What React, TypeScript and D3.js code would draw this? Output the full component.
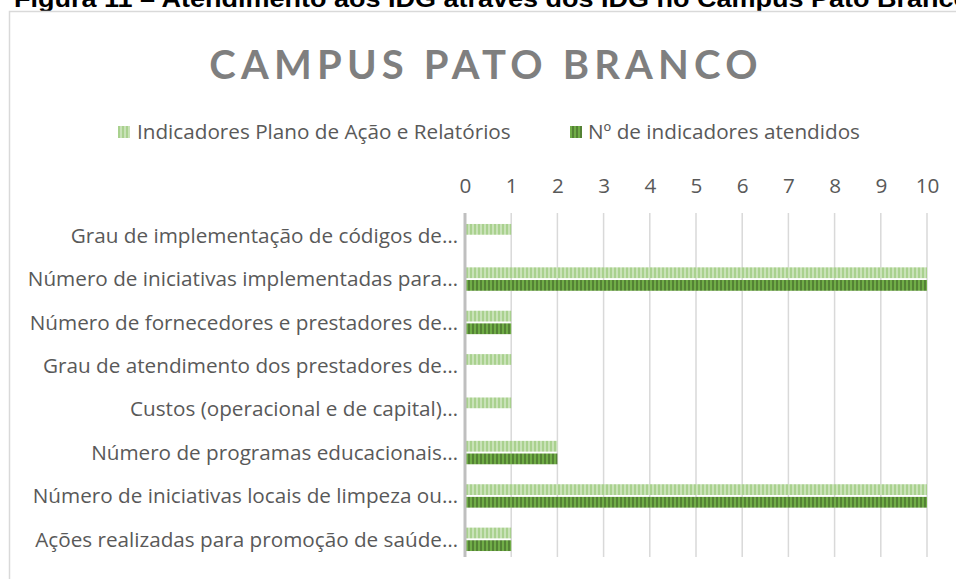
import { useEffect, useRef } from "react";
import * as d3 from "d3";

const CATEGORIES = [
  "Grau de implementação de códigos de…",
  "Número de iniciativas implementadas para…",
  "Número de fornecedores e prestadores de…",
  "Grau de atendimento dos prestadores de…",
  "Custos (operacional e de capital)…",
  "Número de programas educacionais…",
  "Número de iniciativas locais de limpeza ou…",
  "Ações realizadas para promoção de saúde…",
];
const SERIES = ["Indicadores Plano de Ação e Relatórios", "Nº de indicadores atendidos"];
const PLANO = [1, 10, 1, 1, 1, 2, 10, 1];
const ATENDIDOS = [0, 10, 1, 0, 0, 2, 10, 1];
const TICKS = [0, 1, 2, 3, 4, 5, 6, 7, 8, 9, 10];

const FONT = "'Open Sans', Lato, sans-serif";
const FS = "20.7px";

export default function App() {
  const ref = useRef<SVGSVGElement | null>(null);

  useEffect(() => {
    if (!ref.current) return;
    const svg = d3.select(ref.current);
    svg.selectAll("*").remove();

    // stripe patterns
    const defs = svg.append("defs");
    const pats = [
      { id: "p0", base: "#a9d18e", stripe: "#c9e2b8" },
      { id: "p1", base: "#70ad47", stripe: "#548235" },
    ];
    pats.forEach(p => {
      const pt = defs.append("pattern").attr("id", p.id)
        .attr("patternUnits", "userSpaceOnUse").attr("width", 4).attr("height", 4);
      pt.append("rect").attr("width", 4).attr("height", 4).attr("fill", p.base);
      pt.append("rect").attr("width", 2).attr("height", 4).attr("fill", p.stripe);
    });

    // caption above frame (cut off at the top, as in the page)
    svg.append("text").attr("x", 14).attr("y", 7)
      .attr("textLength", 956).attr("lengthAdjust", "spacingAndGlyphs")
      .style("font-family", "'Liberation Sans', Arial, sans-serif")
      .style("font-size", "24px").style("font-weight", 700).style("fill", "#000")
      .text("Figura 11 – Atendimento aos IDG através dos IDG no Campus Pato Branco");

    // chart frame
    svg.append("rect").attr("x", 9.5).attr("y", 11.5).attr("width", 960).attr("height", 600)
      .attr("fill", "#fff").attr("stroke", "#d9d9d9").attr("stroke-width", 1.5);

    svg.append("text").attr("x", 486).attr("y", 79).attr("text-anchor", "middle")
      .style("font-family", "Lato, sans-serif").style("font-size", "40px").style("font-weight", 700)
      .style("letter-spacing", "5.2px").style("fill", "#7f7f7f")
      .text("CAMPUS PATO BRANCO");

    const x = d3.scaleLinear().domain([0, 10]).range([465, 927]);
    const y = d3.scaleBand().domain(CATEGORIES).range([214, 561]).paddingInner(0.46).paddingOuter(0.23);
    const sub = d3.scaleBand().domain(SERIES).range([0, y.bandwidth()]).paddingInner(0.15);

    // gridlines
    svg.append("g").selectAll("line").data(TICKS.slice(1)).join("line")
      .attr("x1", d => x(d)).attr("x2", d => x(d))
      .attr("y1", 213).attr("y2", 557)
      .attr("stroke", "#d9d9d9").attr("stroke-width", 1.5);

    // top tick labels
    const ax = svg.append("g").attr("transform", "translate(0,193)")
      .call(d3.axisTop(x).tickValues(TICKS).tickSize(0).tickPadding(0).tickFormat(d3.format("d")));
    ax.select(".domain").remove();
    ax.selectAll("text").style("font-family", FONT).style("font-size", FS).style("fill", "#595959");

    // bars
    const vals = [PLANO, ATENDIDOS];
    vals.forEach((arr, si) => {
      svg.append("g").selectAll("rect").data(arr.map((v, i) => ({ v, c: CATEGORIES[i] })))
        .join("rect")
        .attr("x", x(0)).attr("y", d => (y(d.c) || 0) + (sub(SERIES[si]) || 0))
        .attr("width", d => x(d.v) - x(0)).attr("height", sub.bandwidth())
        .attr("fill", `url(#p${si})`);
    });

    // vertical axis line
    svg.append("line").attr("x1", x(0)).attr("x2", x(0)).attr("y1", 213).attr("y2", 557)
      .attr("stroke", "#bfbfbf").attr("stroke-width", 3);

    // category labels
    svg.append("g").selectAll("text").data(CATEGORIES).join("text")
      .attr("x", 458).attr("y", d => (y(d) || 0) + y.bandwidth() / 2)
      .attr("dy", "0.35em").attr("text-anchor", "end")
      .style("font-family", FONT).style("font-size", FS).style("fill", "#595959")
      .text(d => d);

    // legend
    const leg = [{ x: 118, tx: 137 }, { x: 570, tx: 588 }];
    leg.forEach((l, i) => {
      svg.append("rect").attr("x", l.x).attr("y", 126).attr("width", 12).attr("height", 12)
        .attr("fill", `url(#p${i})`);
      svg.append("text").attr("x", l.tx).attr("y", 132).attr("dy", "0.35em")
        .style("font-family", FONT).style("font-size", FS).style("fill", "#595959")
        .text(SERIES[i]);
    });
  }, []);

  return <svg ref={ref} width={956} height={579} style={{ position: "absolute", left: 0, top: 0 }} />;
}
